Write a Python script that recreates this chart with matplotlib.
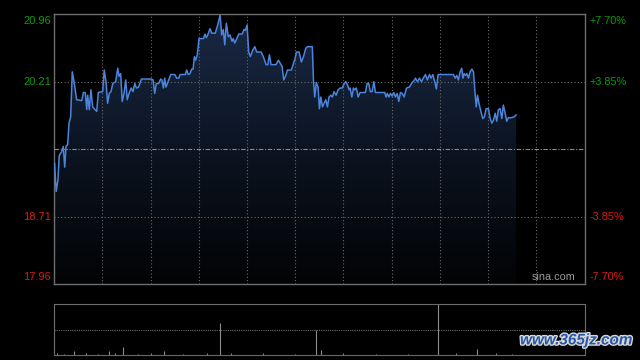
import numpy as np
import matplotlib
matplotlib.use('Agg')
import matplotlib.pyplot as plt
from matplotlib.colors import LinearSegmentedColormap
import matplotlib.patheffects as pe

# intraday price, minutes since open (HK session = 330 min)
minutes = [
    0.2, 1.2, 2.3, 3.1, 4.6, 5.6, 6.5, 7.3, 8.3, 9.2, 10.2, 11.2, 12.3, 13.9, 17.1,
    18.1, 19.3, 20.2, 20.8, 21.8, 22.8, 23.9, 24.9, 26.4, 27.4, 30.1, 31.1, 32.2,
    33.2, 34.2, 35.3, 36.4, 38.2, 39.5, 40.3, 41.3, 42.3, 43.4, 44.5, 45.4, 46.9,
    47.9, 49.0, 50.1, 51.1, 52.5, 54.2, 60.4, 61.5, 62.5, 63.5, 65.0, 66.2, 67.0,
    67.9, 68.7, 69.5, 70.8, 72.5, 75.0, 76.2, 77.5, 78.3, 81.6, 82.4, 83.4, 84.5,
    85.5, 86.4, 87.2, 88.0, 89.0, 90.1, 92.8, 93.8, 94.6, 95.5, 96.9, 98.0, 100.2,
    101.7, 103.2, 104.2, 105.2, 106.1, 107.1, 108.3, 109.4, 110.6, 111.4, 112.3,
    113.6, 114.8, 116.9, 118.1, 118.9, 120.0, 121.0, 122.0, 123.5, 124.8, 126.0,
    128.7, 130.1, 131.8, 132.9, 133.9, 134.9, 138.0, 139.5, 140.5, 141.8, 142.8,
    144.1, 145.1, 147.6, 148.6, 149.9, 150.7, 152.4, 153.8, 155.1, 156.5, 157.5,
    160.6, 161.3, 162.1, 163.1, 164.2, 165.0, 165.9, 166.9, 167.9, 169.0, 170.0,
    171.0, 172.1, 173.1, 174.1, 175.4, 176.6, 177.9, 179.3, 180.4, 181.4, 182.4,
    183.5, 184.1, 185.2, 186.2, 187.0, 188.0, 189.1, 190.3, 192.8, 193.6, 194.7,
    195.7, 196.7, 197.8, 198.9, 199.9, 205.7, 206.5, 207.3, 208.2, 209.2, 210.3,
    211.3, 212.3, 213.4, 214.4, 215.4, 216.5, 217.7, 219.2, 221.0, 222.3, 223.8,
    224.8, 226.0, 227.3, 228.5, 229.7, 231.0, 232.2, 233.5, 234.5, 235.6, 236.8,
    237.8, 238.9, 248.4, 249.5, 250.5, 251.5, 252.6, 253.6, 254.3, 255.1, 255.9,
    256.8, 257.8, 258.8, 259.9, 260.9, 261.7, 262.6, 263.4, 264.3, 265.5, 266.7,
    267.7, 268.8, 270.2, 271.3, 272.3, 273.3, 274.4, 275.4, 276.4, 277.5, 278.5,
    279.5, 280.6, 281.6, 282.6, 284.7, 286.2, 287.4,
]
prices = [
    19.30, 18.99, 19.12, 19.39, 19.43, 19.49, 19.26, 19.49, 19.51, 19.75, 19.82,
    20.32, 20.21, 20.01, 20.00, 20.09, 20.09, 19.90, 20.06, 19.90, 20.12, 19.93,
    19.91, 19.88, 20.09, 20.10, 20.34, 20.21, 19.97, 20.08, 20.10, 20.19, 20.21,
    20.36, 20.27, 20.30, 19.99, 20.08, 20.23, 20.01, 20.10, 20.14, 20.10, 20.19,
    20.14, 20.15, 20.24, 20.24, 20.23, 20.08, 20.19, 20.19, 20.24, 20.23, 20.14,
    20.25, 20.15, 20.21, 20.29, 20.29, 20.25, 20.25, 20.29, 20.29, 20.34, 20.29,
    20.30, 20.35, 20.35, 20.49, 20.45, 20.51, 20.69, 20.69, 20.74, 20.70, 20.73,
    20.80, 20.75, 20.75, 20.84, 20.95, 20.73, 20.79, 20.62, 20.86, 20.71, 20.73,
    20.66, 20.69, 20.64, 20.69, 20.74, 20.74, 20.79, 20.78, 20.84, 20.54, 20.49,
    20.56, 20.60, 20.54, 20.54, 20.49, 20.40, 20.40, 20.51, 20.40, 20.40, 20.45,
    20.42, 20.38, 20.23, 20.28, 20.34, 20.34, 20.40, 20.47, 20.54, 20.54, 20.43,
    20.49, 20.58, 20.60, 20.60, 20.23, 20.04, 20.20, 20.15, 19.91, 20.04, 19.93,
    19.97, 20.01, 19.93, 20.04, 20.06, 20.04, 20.10, 20.06, 20.12, 20.14, 20.14,
    20.19, 20.21, 20.18, 20.12, 20.14, 20.04, 20.14, 20.12, 20.14, 20.04, 20.09,
    20.09, 20.09, 20.19, 20.19, 20.10, 20.10, 20.21, 20.09, 20.09, 20.04, 20.08,
    20.04, 20.08, 20.05, 20.09, 20.04, 20.08, 19.99, 20.09, 20.08, 20.04, 20.14,
    20.15, 20.19, 20.22, 20.25, 20.21, 20.25, 20.21, 20.25, 20.29, 20.23, 20.29,
    20.25, 20.29, 20.21, 20.13, 20.29, 20.29, 20.25, 20.28, 20.23, 20.32, 20.36,
    20.25, 20.30, 20.28, 20.30, 20.25, 20.32, 20.35, 20.32, 20.12, 19.93, 20.06,
    19.97, 19.88, 19.80, 19.82, 19.91, 19.91, 19.80, 19.75, 19.78, 19.86, 19.77,
    19.90, 19.91, 19.80, 19.95, 19.86, 19.77, 19.81, 19.81, 19.82, 19.84,
]

# volume spikes (minute, volume in k shares); top of panel = 400
vol_minutes = [2, 6, 12, 20, 27, 34, 38, 43, 52, 60, 68, 80, 95, 103, 110, 130,
               150, 162.6, 165.7, 180, 200, 220, 239.1, 250, 263.2, 275, 285]
volumes = [12, 8, 28, 10, 9, 32, 10, 60, 8, 10, 32, 9, 12, 252, 14, 10,
           8, 200, 40, 10, 9, 8, 420, 10, 45, 10, 8]

prev_close = 19.46
price_ticks = [20.96, 20.21, 19.46, 18.71, 17.96]
pct_labels = ['+7.70%', '+3.85%', '0.00%', '-3.85%', '-7.70%']

GREEN = '#119a11'
RED = '#dd1a1a'
BORDER = '#6e6e6e'
GRID = '#6a6a6a'
LINE = '#4a84dc'

plt.rcParams['font.family'] = ['Liberation Sans', 'DejaVu Sans']

fig = plt.figure(figsize=(6.4, 3.6), dpi=100, facecolor='black')
ax = fig.add_axes([0.0848, 0.2111, 0.8285, 0.7492], facecolor='black')
axv = fig.add_axes([0.0848, 0.0147, 0.8285, 0.1400], facecolor='black')

x0, x1 = 0, 330
y0, y1 = price_ticks[-1], price_ticks[0]
ax.set_xlim(x0, x1)
ax.set_ylim(y0, y1)

# gradient fill under the price line
fill = ax.fill_between(minutes, prices, y0, color='none', lw=0)
grad = np.linspace(1, 0, 256).reshape(-1, 1)
cmap = LinearSegmentedColormap.from_list('g', ['#020304', '#0c1422', '#1a2945'])
im = ax.imshow(grad, cmap=cmap, aspect='auto', extent=[x0, x1, y0, y1],
               origin='upper', zorder=1)
im.set_clip_path(fill.get_paths()[0], transform=ax.transData)
ax.set_xlim(x0, x1)
ax.set_ylim(y0, y1)

ax.plot(minutes, prices, color=LINE, lw=1.1, zorder=4)

# grid
for gx in np.arange(30, 330, 30):
    ax.axvline(gx, color=GRID, lw=0.8, ls=(0, (1, 2)), zorder=2)
for p in (20.21, 18.71):
    ax.axhline(p, color=GRID, lw=0.8, ls=(0, (1, 2)), zorder=2)
ax.axhline(prev_close, color='#8a8a8a', lw=0.8, ls=(0, (4, 1.5, 1, 1.5)), zorder=3)

for s in ax.spines.values():
    s.set_color(BORDER)
    s.set_linewidth(1.0)
ax.set_xticks([])
ax.set_yticks([])

# axis labels
for p, lab in zip(price_ticks, pct_labels):
    if p == prev_close:
        continue
    c = GREEN if p > prev_close else RED
    va = 'top' if p == y1 else ('bottom' if p == y0 else 'center')
    dy = -2 if p == y1 else (2 if p == y0 else 0)
    ax.annotate(f'{p:.2f}', (0, p), xycoords=('axes fraction', 'data'),
                xytext=(-3, dy), textcoords='offset pixels',
                ha='right', va=va, color=c, fontsize=8)
    ax.annotate(lab, (1, p), xycoords=('axes fraction', 'data'),
                xytext=(5, dy), textcoords='offset pixels',
                ha='left', va=va, color=c, fontsize=7.8)

ax.text(0.983, 0.008, 'sina.com', transform=ax.transAxes, ha='right', va='bottom',
        color='#9a9a9a', fontsize=7.8, zorder=5)

# volume panel
axv.set_xlim(x0, x1)
axv.set_ylim(0, 400)
axv.vlines(vol_minutes, 0, volumes, color='#8c8c8c', lw=0.8)
axv.axhline(200, color=GRID, lw=0.8, ls=(0, (1, 1)))
axv.set_xticks([])
axv.set_yticks([])
for k in ('left', 'right'):
    axv.spines[k].set_color(BORDER)
for k in ('top', 'bottom'):
    axv.spines[k].set_color(GRID)
    axv.spines[k].set_linestyle((0, (1, 1)))

fig.text(0.988, 0.035, 'www.365jz.com', ha='right', va='bottom', color='#2458a8',
         fontsize=11, fontweight='bold', style='italic',
         path_effects=[pe.withStroke(linewidth=2, foreground='#d8d8d8')])

fig.savefig('out.png', dpi=100, facecolor='black')
